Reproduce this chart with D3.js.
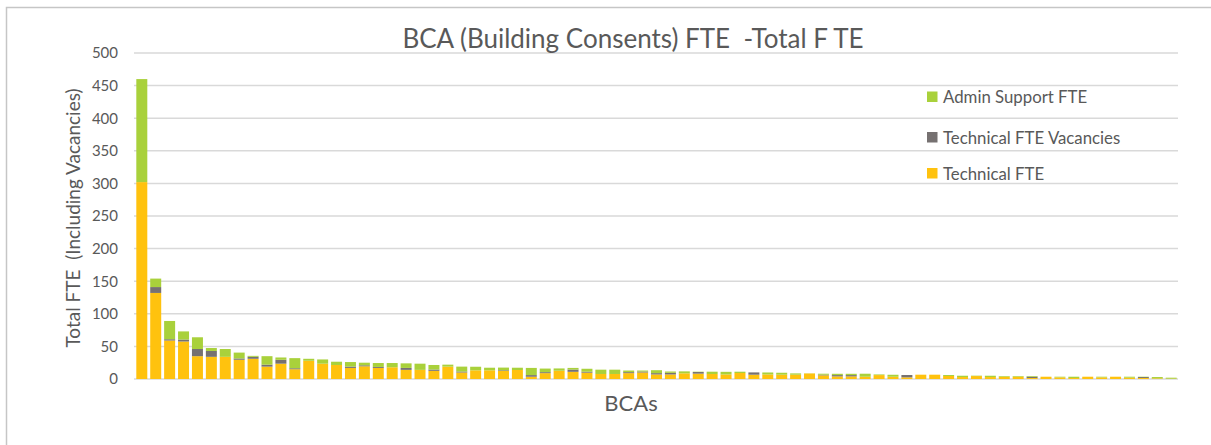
<!DOCTYPE html>
<html>
<head>
<meta charset="utf-8">
<script src="https://cdn.jsdelivr.net/npm/d3@7"></script>
<style>
  body { margin: 0; background: #fff; }
  text { font-family: Lato, "Open Sans", sans-serif; fill: #595959; white-space: pre; }
</style>
</head>
<body>
<svg width="1211" height="445"></svg>
<script>
// values, one per BCA (sorted by total)
const technical = [302, 132, 59, 57.5, 35, 34, 34, 29.5, 31, 19, 23.5, 15, 28, 23.5, 21.5,
  17, 19.5, 17, 18, 14, 14, 12.5, 19, 10, 13.3, 13.3, 12.5, 13.8, 3.5, 9,
  12.7, 11, 9.7, 7.7, 7.7, 9, 10, 7, 7, 8.7, 8.2, 7.7, 7, 9.2, 6.6,
  7, 6.6, 6.6, 8.5, 5.6, 4, 4, 3.5, 6, 3.5, 2.5, 6.6, 6.6, 4.6, 3,
  4.5, 3, 3.5, 3.5, 1.5, 3.5, 2.5, 1.5, 3.5, 2.5, 3.5, 2, 1.5, 1, 0.5];
const vacancies = [0, 9, 2, 3, 11, 9, 0, 2, 3, 3, 6, 1.5, 0, 0, 0,
  2, 1.5, 1.5, 0, 3, 0, 2, 0, 1.5, 0, 0, 1, 0, 2.5, 1.5,
  0, 3.5, 1.5, 0, 0, 1.5, 1.5, 2, 2.5, 0, 2.5, 0, 0, 0, 3.5,
  0, 0, 0, 0, 1, 2, 2, 0, 0, 0, 3.6, 0, 0, 0, 0,
  0, 0, 0, 0, 2, 0, 0, 0, 0, 0, 0, 0, 1.5, 0, 0];
const admin = [158, 13, 28, 12.5, 18, 4.5, 12, 9, 1.5, 13, 3.5, 15.5, 3, 6.5, 5,
  7, 4, 6, 6.5, 7, 9.5, 7, 3, 7.5, 5.5, 4, 4, 3.5, 11, 5.5,
  3.5, 2.5, 4.5, 6.6, 6.6, 2.5, 1.5, 4.5, 2, 3, 0.5, 3.5, 4, 2, 0,
  3, 3, 2, 0.2, 1.5, 2, 2, 4.6, 1, 3, 0, 0, 0, 1.5, 2,
  0.6, 2, 1, 1, 1, 0, 1, 2, 0, 1, 0, 1.5, 0.5, 2, 1.5];
const yTicks = [0, 50, 100, 150, 200, 250, 300, 350, 400, 450, 500];

const bcas = technical.map((d, i) => "BCA " + (i + 1));
const keys = ["technical", "vacancies", "admin"];
const colors = {technical: "#FFC20E", vacancies: "#767171", admin: "#A9D13B"};
const legendItems = [
  {key: "admin", label: "Admin Support FTE"},
  {key: "vacancies", label: "Technical FTE Vacancies"},
  {key: "technical", label: "Technical FTE"}
];

const rows = bcas.map((b, i) => ({bca: b, technical: technical[i], vacancies: vacancies[i], admin: admin[i]}));

const svg = d3.select("svg");

// chart frame
svg.append("rect")
    .attr("x", 6.5).attr("y", 7.5)
    .attr("width", 1220).attr("height", 450)
    .attr("fill", "none")
    .attr("stroke", "#c6c6c6")
    .attr("stroke-width", 1.5);

const x = d3.scaleBand()
    .domain(bcas)
    .range([134.5, 1178.5])
    .paddingInner(0.21)
    .paddingOuter(0.13);

const y = d3.scaleLinear()
    .domain([0, 500])
    .range([379, 53]);

// gridlines
svg.append("g")
  .selectAll("line")
  .data(yTicks)
  .join("line")
    .attr("x1", 134).attr("x2", 1178)
    .attr("y1", d => y(d)).attr("y2", d => y(d))
    .attr("stroke", "#d9d9d9")
    .attr("stroke-width", 1.5);

// y tick labels
svg.append("g")
  .selectAll("text")
  .data(yTicks)
  .join("text")
    .attr("x", 118)
    .attr("y", d => y(d))
    .attr("dy", "0.36em")
    .attr("text-anchor", "end")
    .style("font-size", "15px")
    .text(d => d);

const series = d3.stack().keys(keys)(rows);

svg.append("g")
  .selectAll("g")
  .data(series)
  .join("g")
    .attr("fill", d => colors[d.key])
  .selectAll("rect")
  .data(d => d)
  .join("rect")
    .attr("x", d => x(d.data.bca))
    .attr("width", x.bandwidth())
    .attr("y", d => y(d[1]))
    .attr("height", d => y(d[0]) - y(d[1]));

// title
svg.append("text")
    .attr("x", 633).attr("y", 48)
    .attr("text-anchor", "middle")
    .style("font-size", "26px")
    .text("BCA (Building Consents) FTE  -Total F TE");

// axis titles
svg.append("text")
    .attr("x", 631).attr("y", 411)
    .attr("text-anchor", "middle")
    .style("font-size", "22px")
    .text("BCAs");

svg.append("text")
    .attr("transform", "translate(80,218) rotate(-90)")
    .attr("text-anchor", "middle")
    .style("font-size", "19px")
    .text("Total FTE  (Including Vacancies)");

// legend
const legend = svg.append("g")
  .selectAll("g")
  .data(legendItems)
  .join("g")
    .attr("transform", (d, i) => `translate(927,${[97, 137.5, 173.5][i]})`);

legend.append("rect")
    .attr("x", 0).attr("y", -5.5)
    .attr("width", 10.5).attr("height", 10.5)
    .attr("fill", d => colors[d.key]);

legend.append("text")
    .attr("x", 16)
    .attr("dy", "0.36em")
    .style("font-size", "16.8px")
    .text(d => d.label);
</script>
</body>
</html>
